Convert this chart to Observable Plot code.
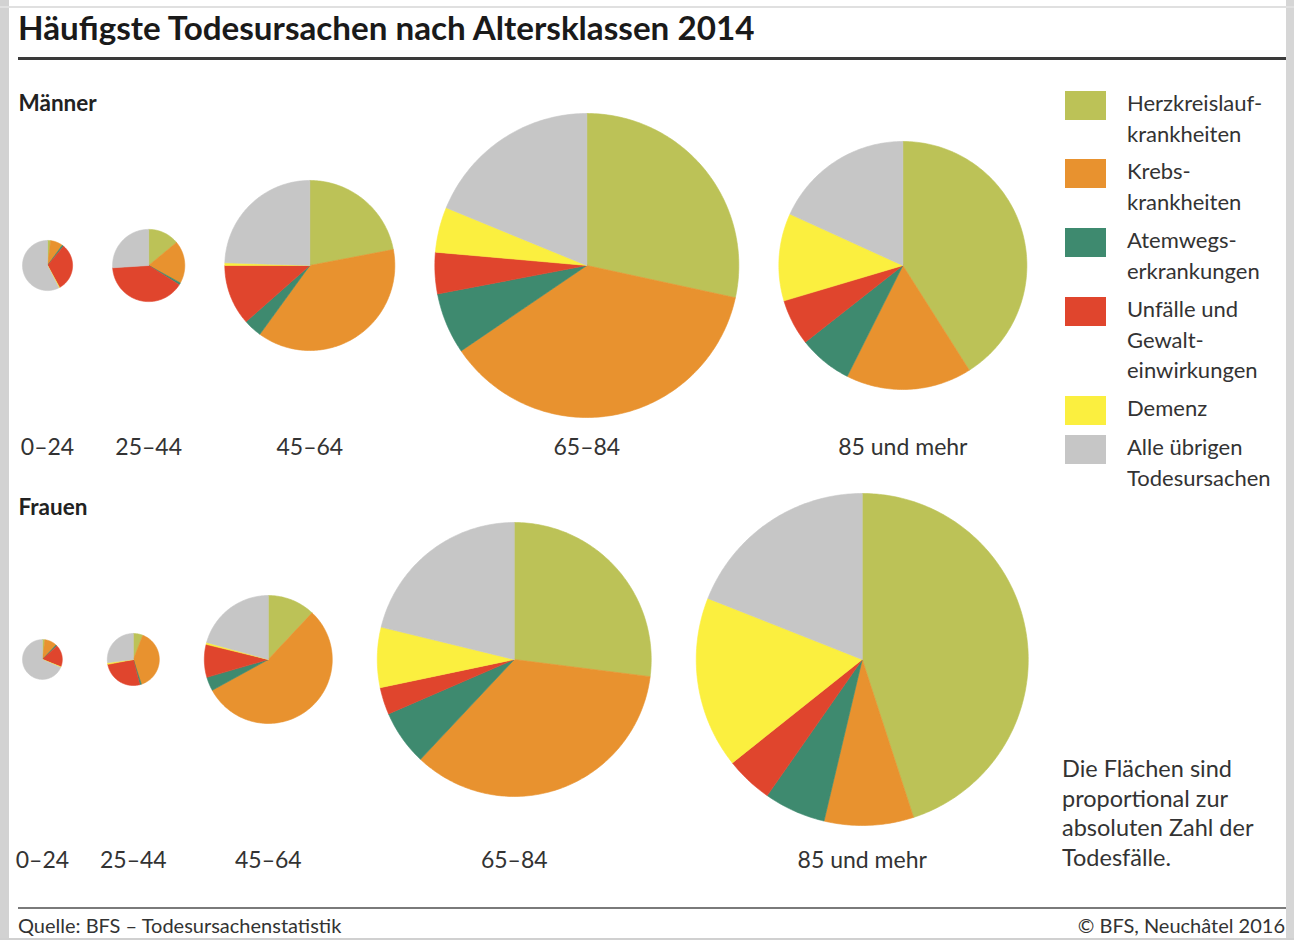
<!DOCTYPE html>
<html>
<head>
<meta charset="utf-8">
<script src="https://cdn.jsdelivr.net/npm/d3@7"></script>
<script src="https://cdn.jsdelivr.net/npm/@observablehq/plot@0.6"></script>
<style>
  html, body { margin: 0; padding: 0; background: #fff; }
  body { width: 1294px; height: 940px; position: relative; overflow: hidden; font-family: Lato, "Open Sans", sans-serif; color: #333; }
  .frameL { position: absolute; left: 0; top: 0; width: 9px; height: 940px; background: #d2d2d2; }
  .frameR { position: absolute; left: 1286px; top: 0; width: 8px; height: 940px; background: #d6d6d6; }
  .frameT { position: absolute; left: 0; top: 6px; width: 1294px; height: 2px; background: #e0e0e0; }
  .frameB { position: absolute; left: 0; top: 938px; width: 1294px; height: 2px; background: #d0d0d0; }
  #title { position: absolute; left: 18px; top: 7px; font-size: 33.2px; font-weight: 700; color: #1a1a1a; white-space: nowrap; letter-spacing: 0px; }
  .ruleTop { position: absolute; left: 18px; top: 57px; width: 1268px; height: 3px; background: #3a3a3a; }
  #chart { position: absolute; left: 0; top: 62px; }
  #legend { position: absolute; left: 1065px; top: 88px; font-size: 22px; line-height: 30.5px; color: #333; }
  .item { position: relative; padding-left: 62px; }
  .sw { position: absolute; left: 0; top: 3px; width: 41px; height: 29px; }
  #note { position: absolute; left: 1062px; top: 754px; font-size: 23.5px; line-height: 29.5px; color: #333; }
  .ruleBot { position: absolute; left: 18px; top: 907px; width: 1268px; height: 2px; background: #7a7a7a; }
  .foot { position: absolute; top: 913px; font-family: Lato, sans-serif; font-size: 20px; color: #333; white-space: nowrap; }
</style>
</head>
<body>
<div class="frameL"></div><div class="frameR"></div><div class="frameT"></div><div class="frameB"></div>
<div id="title">Häufigste Todesursachen nach Altersklassen 2014</div>
<div class="ruleTop"></div>
<div id="chart"></div>
<div id="legend"></div>
<div id="note">Die Flächen sind<br>proportional zur<br>absoluten Zahl der<br>Todesfälle.</div>
<div class="ruleBot"></div>
<div class="foot" style="left:18px">Quelle: BFS – Todesursachenstatistik</div>
<div class="foot" style="right:9px">© BFS, Neuchâtel 2016</div>
<script>
// ---- Data ----
const ageClasses = ["0–24", "25–44", "45–64", "65–84", "85 und mehr"];
const causes = ["Herzkreislaufkrankheiten", "Krebskrankheiten", "Atemwegserkrankungen", "Unfälle und Gewalteinwirkungen", "Demenz", "Alle übrigen Todesursachen"];
const legendLabels = [["Herzkreislauf-", "krankheiten"], ["Krebs-", "krankheiten"], ["Atemwegs-", "erkrankungen"], ["Unfälle und", "Gewalt-", "einwirkungen"], ["Demenz"], ["Alle übrigen", "Todesursachen"]];
const causeColors = ["#bcc257", "#e8922f", "#3e8a6f", "#e0452d", "#fbef3f", "#c6c6c6"];
// total deaths per age class (estimated)
const menTotals = [380, 790, 4380, 14000, 9320];
const womenTotals = [240, 410, 2480, 11370, 16700];
// share (%) of each cause per age class, order as in `causes`
const menShares = [
  [2, 8, 1, 31, 0.5, 57.5],
  [14, 19, 1, 40, 0, 26],
  [22, 38, 3.5, 11.5, 0.5, 24.5],
  [28.4, 37.1, 6.5, 4.4, 4.8, 18.8],
  [41, 16.4, 7, 6, 11.4, 18.2]
];
const womenShares = [
  [2, 10, 1, 18, 0.5, 68.5],
  [6, 39, 1, 26, 1, 27],
  [12, 55, 3.5, 8.3, 0.5, 20.7],
  [27, 35, 6.5, 3.2, 7.1, 21.2],
  [45, 8.7, 6, 4.6, 16.7, 19]
];
const groups = ["Männer", "Frauen"];

// ---- Layout ----
const W = 1294, H = 840;
const rScale = Plot.scale({r: {type: "sqrt", domain: [0, 14000], range: [0, 152]}});
const rows = [
  {name: groups[0], totals: menTotals, shares: menShares, cy: 203, gap: 40, labelY: 385, titleY: 41},
  {name: groups[1], totals: womenTotals, shares: womenShares, cy: 597, gap: 45, labelY: 798, titleY: 445}
];
const leftEdge = 22;

const slices = [];
const labels = [];
const rowTitles = [];
rows.forEach((row) => {
  let x = leftEdge;
  rowTitles.push({text: row.name, x: 18, y: row.titleY});
  row.totals.forEach((tot, i) => {
    const r = rScale.apply(tot);
    const cx = x + r;
    x = cx + r + row.gap;
    labels.push({text: ageClasses[i], x: cx, y: row.labelY});
    const sh = row.shares[i];
    const sum = d3.sum(sh);
    let a = 0;
    sh.forEach((s, k) => {
      const a0 = a, a1 = a + (s / sum) * 2 * Math.PI;
      a = a1;
      if (s <= 0) return;
      const id = `${row.name}-${i}-${k}`;
      slices.push({id, cause: causes[k], x: cx, y: row.cy});
      const n = Math.max(2, Math.ceil((a1 - a0) / (Math.PI / 180)));
      for (let j = 0; j <= n; j++) {
        const t = a0 + (a1 - a0) * j / n;
        slices.push({id, cause: causes[k], x: cx + r * Math.sin(t), y: row.cy - r * Math.cos(t)});
      }
      slices.push({id, cause: causes[k], x: cx, y: row.cy});
    });
  });
});

const chart = Plot.plot({
  width: W, height: H,
  margin: 0,
  x: {domain: [0, W], range: [0, W], axis: null},
  y: {domain: [0, H], range: [0, H], axis: null},
  color: {domain: causes, range: causeColors},
  style: {background: "transparent", overflow: "visible"},
  marks: [
    Plot.line(slices, {x: "x", y: "y", z: "id", fill: "cause", stroke: "cause", strokeWidth: 0.6, curve: "linear"}),
    Plot.text(labels, {x: "x", y: "y", text: "text", fontSize: 23, fill: "#333", fontFamily: "Lato, 'Open Sans', sans-serif", textAnchor: "middle"}),
    Plot.text(rowTitles, {x: "x", y: "y", text: "text", fontSize: 22.5, fontWeight: 700, fill: "#222", fontFamily: "Lato, 'Open Sans', sans-serif", textAnchor: "start"})
  ]
});
document.getElementById("chart").appendChild(chart);

// ---- Legend ----
const legendTops = [0, 68, 137, 206, 305, 344];
const legend = document.getElementById("legend");
causes.forEach((c, i) => {
  const div = document.createElement("div");
  div.className = "item";
  div.style.position = "absolute";
  div.style.top = legendTops[i] + "px";
  div.style.whiteSpace = "nowrap";
  div.innerHTML = `<span class="sw" style="background:${causeColors[i]}"></span>` + legendLabels[i].join("<br>");
  legend.appendChild(div);
});
</script>
</body>
</html>
